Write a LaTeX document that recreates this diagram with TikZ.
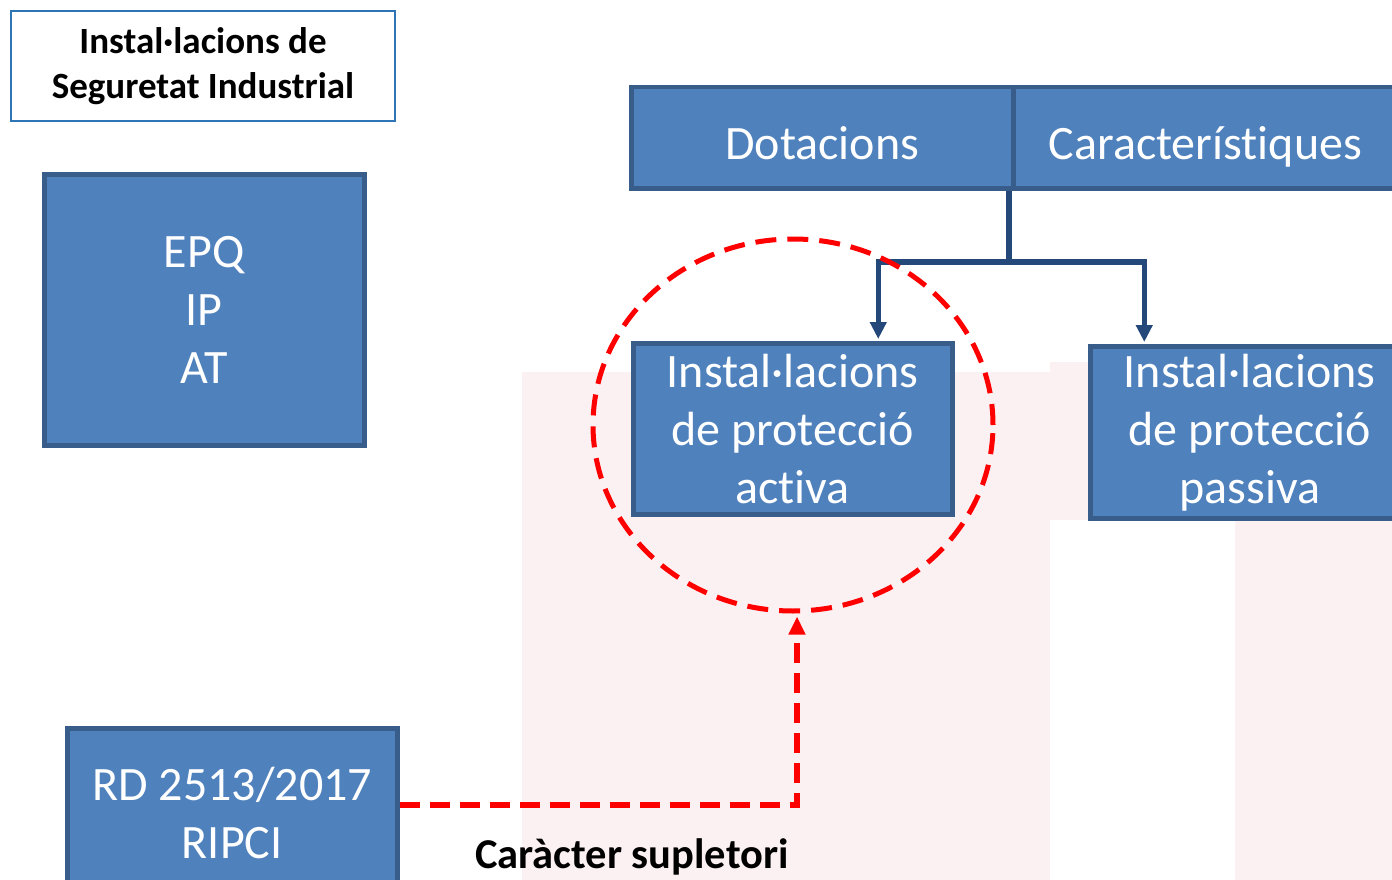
\documentclass[tikz,border=0pt]{standalone}
\usepackage{fontspec}
\setmainfont{Carlito}[Ligatures={NoCommon}]
\usetikzlibrary{arrows.meta,shapes.geometric}
\definecolor{boxfill}{RGB}{79,129,189}
\definecolor{boxline}{RGB}{56,93,138}
\definecolor{conncol}{RGB}{37,72,122}
\definecolor{titleline}{RGB}{46,117,182}
\definecolor{wmpink}{RGB}{244,206,212}
\definecolor{wmred}{RGB}{255,0,0}
\tikzset{
  bluebox/.style={draw=boxline, fill=boxfill, line width=4.5pt, text=white,
    font=\fontsize{48}{58}\selectfont, align=center, inner sep=0pt, anchor=north west},
  topbox/.style={bluebox, text height=44pt, text depth=0pt},
  titlebox/.style={draw=titleline, fill=white, line width=2pt, text=black,
    font=\bfseries\fontsize{37}{45}\selectfont, align=center, inner sep=0pt, anchor=north west},
  connector/.style={draw=conncol, line width=5.5pt},
  conarrow/.style={connector, -{Triangle[width=16pt,length=17pt]}},
  reddash/.style={draw=wmred, line width=5pt, dash pattern=on 21pt off 11pt},
  redlink/.style={draw=wmred, line width=6pt, dash pattern=on 20pt off 10pt},
  wmshape/.style={fill=wmpink, draw=none, opacity=0.3}
}
\begin{document}
\begin{tikzpicture}[x=1pt,y=-1pt]
\useasboundingbox (0,0) rectangle (1392,880);
\fill[white] (0,0) rectangle (1392,880);
% faint watermark
\fill[wmshape] (522,372) rectangle (1050,880);
\fill[wmshape] (1050,362) rectangle (1230,520);
\fill[wmshape] (1235,520) rectangle (1392,880);

% title
\node[titlebox, minimum width=384, minimum height=110] (title) at (10,10)
  {Instal·lacions de\\Seguretat Industrial};
% left boxes
\node[bluebox, minimum width=320, minimum height=271] (epq) at (42,172)
  {EPQ\\IP\\AT};
\node[bluebox, minimum width=330, minimum height=170] (rd) at (65,726)
  {RD 2513/2017\\RIPCI};
% top boxes
\node[topbox, minimum width=382, minimum height=101] (dot) at (629,85)
  {Dotacions};
\node[topbox, minimum width=384, minimum height=101] (car) at (1011,85)
  {Característiques};
% lower boxes
\node[bluebox, minimum width=319, minimum height=171] (act) at (631,341)
  {Instal·lacions\\de protecció\\activa};
\node[bluebox, minimum width=319, minimum height=172] (pas) at (1088,344)
  {Instal·lacions\\de protecció\\passiva};

% blue connectors
\coordinate (junc) at (1009,262);
\draw[connector] (junc |- dot.south) -- (junc);
\draw[conarrow] (junc) -| ([xshift=85.5pt,yshift=2pt]act.north);
\draw[conarrow] (junc) -| ([xshift=-105.5pt,yshift=2pt]pas.north);

% red dashed ellipse
\node[ellipse, reddash, minimum width=400, minimum height=372, inner sep=0pt] (circ) at (793,425) {};
\draw[redlink, -{Triangle[width=16pt,length=18pt]}] ([yshift=8pt]rd.east) -| ([xshift=4pt,yshift=-3pt]circ.south);

% label
\node[font=\bfseries\fontsize{42.5}{46}\selectfont, text=black] (lab) at (632,857) {Caràcter supletori};
\end{tikzpicture}
\end{document}
